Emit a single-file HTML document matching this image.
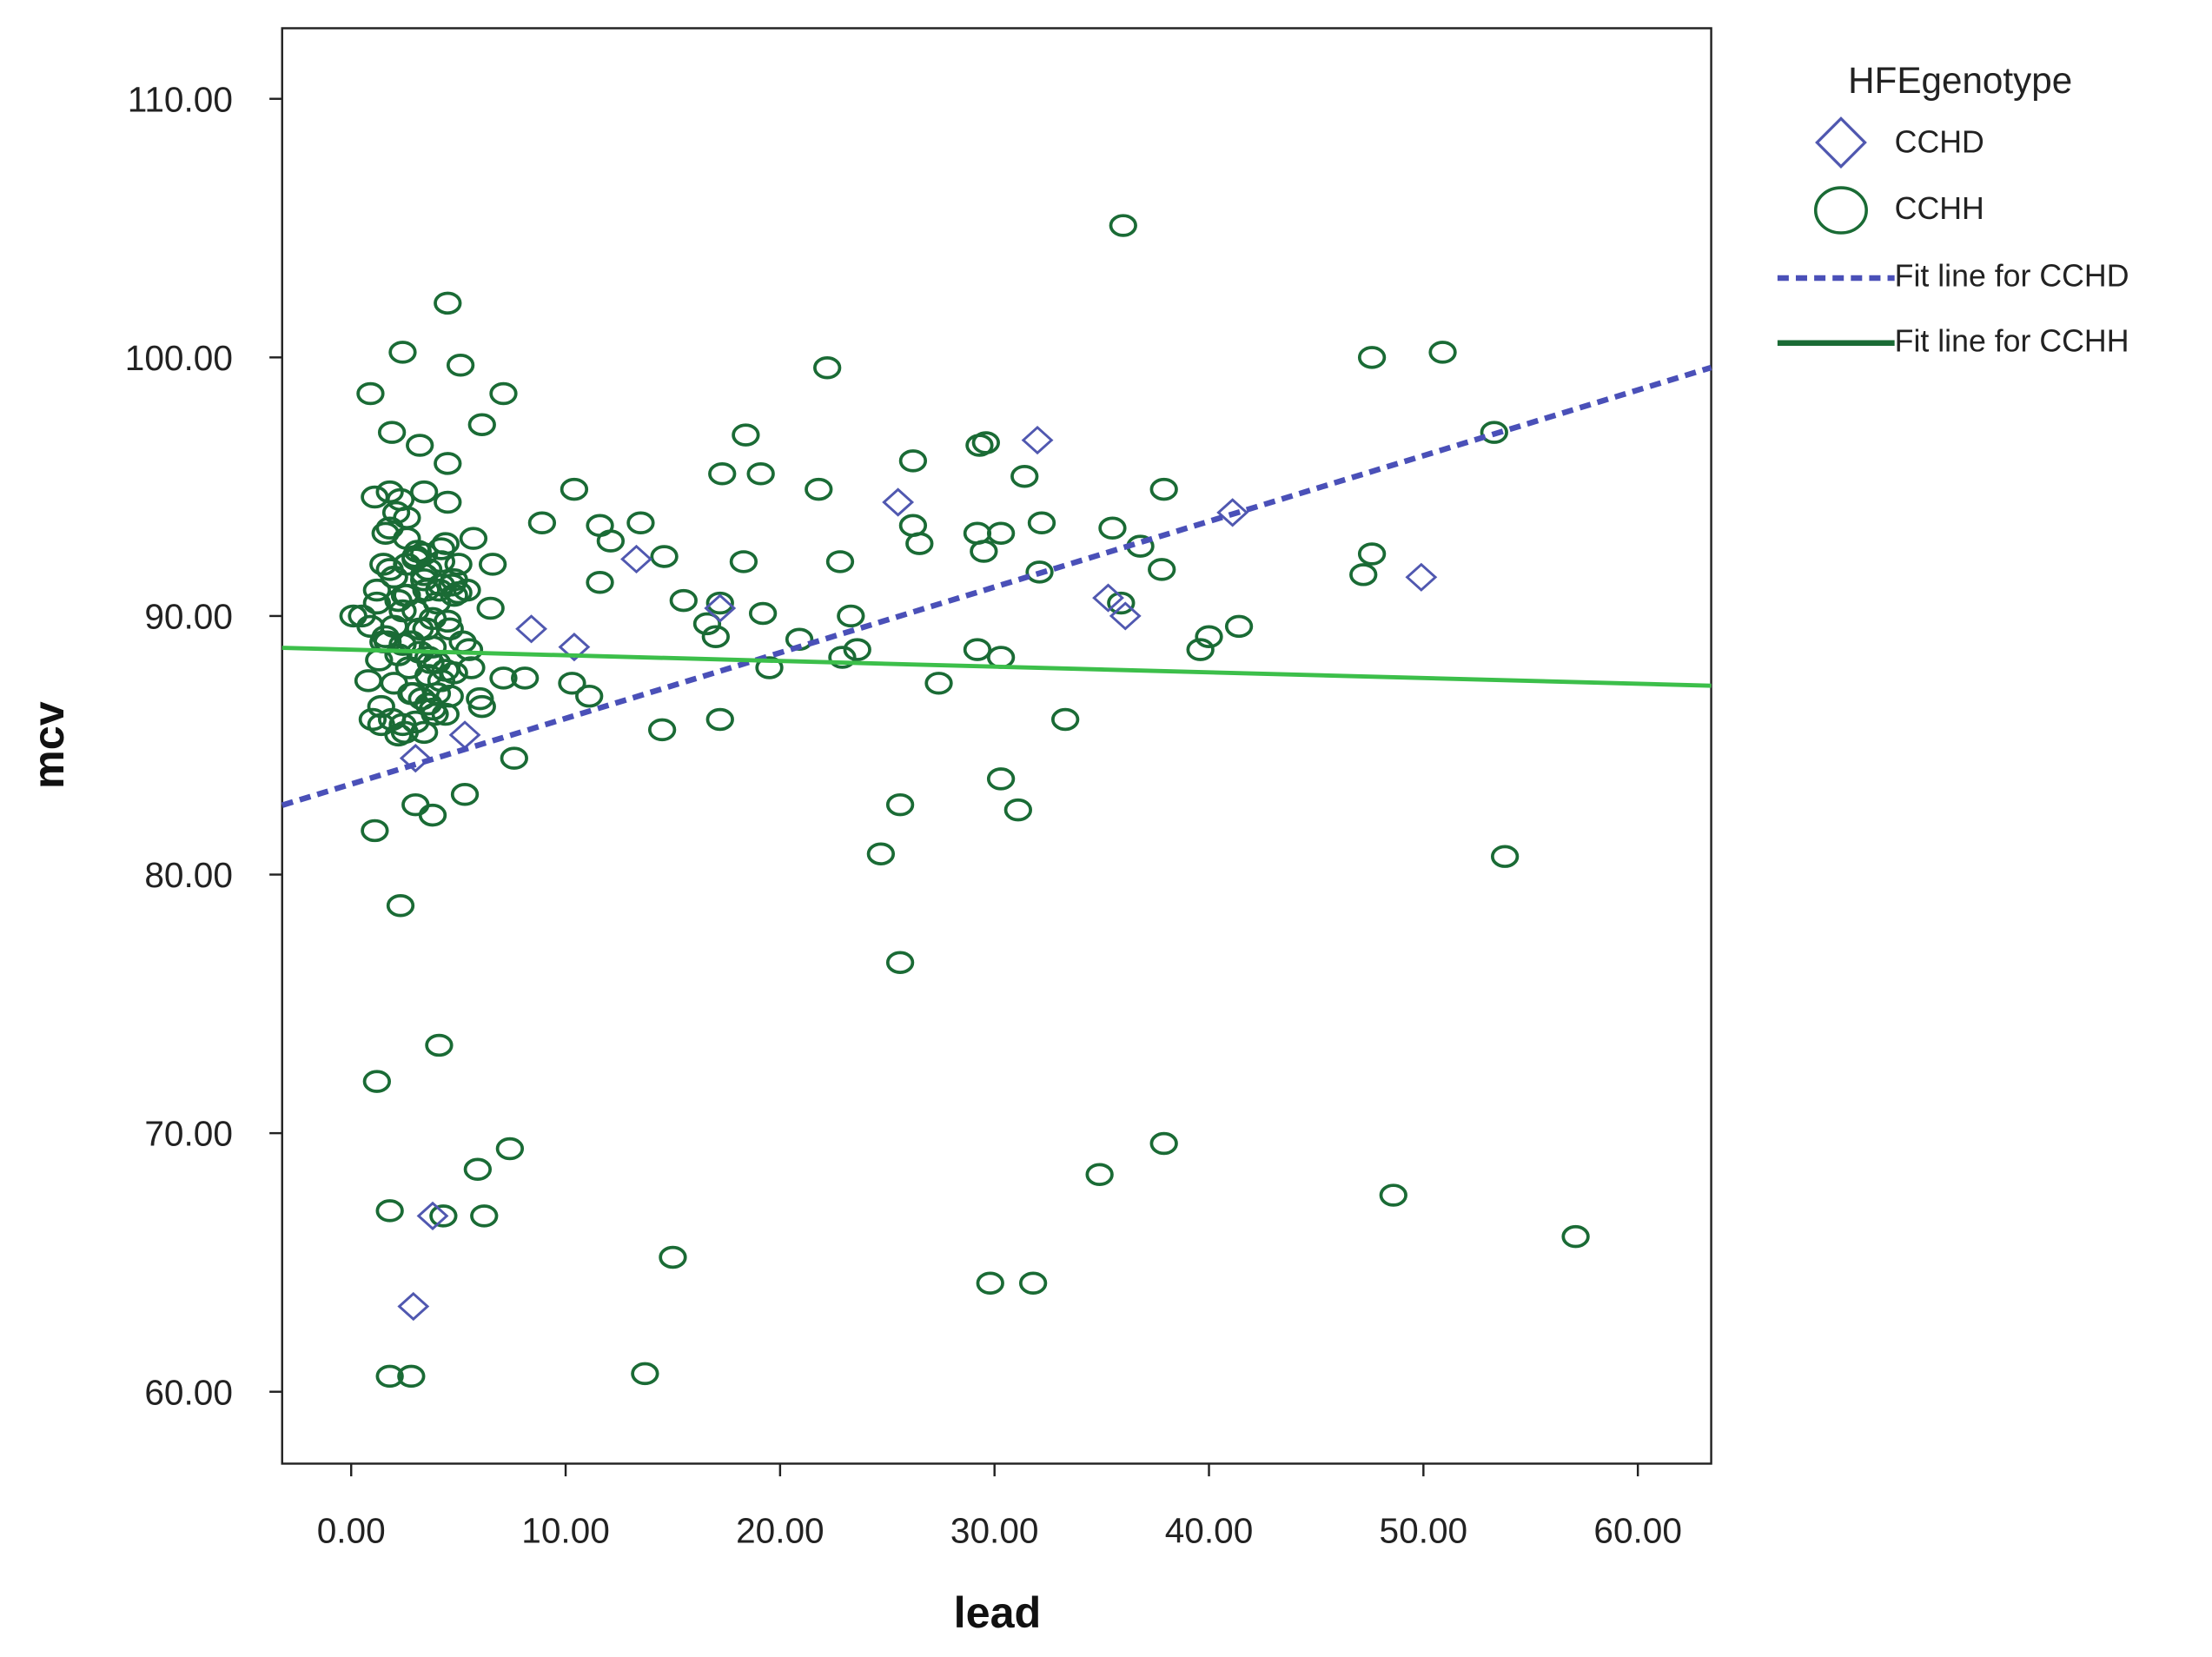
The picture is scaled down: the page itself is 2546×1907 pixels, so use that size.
<!DOCTYPE html>
<html><head><meta charset="utf-8"><style>html,body{margin:0;padding:0;background:#fff}svg{display:block}</style></head>
<body>
<svg id="chart" xmlns="http://www.w3.org/2000/svg" width="2546" height="1907" viewBox="0 0 1568 1174" preserveAspectRatio="none" font-family="Liberation Sans, sans-serif">
<rect x="0" y="0" width="1568" height="1174" fill="#fff"/>
<rect x="200" y="20" width="1013" height="1017" fill="#fff" stroke="#222" stroke-width="1.5"/>
<g id="marks"></g>
<text x="707" y="1153" font-size="31" font-weight="bold" text-anchor="middle" fill="#111">lead</text>
<text x="45" y="528" font-size="31" font-weight="bold" text-anchor="middle" fill="#111" transform="rotate(-90 45 528)">mcv</text>
<g>
<text x="1310" y="66" font-size="26" fill="#222">HFEgenotype</text>
<path d="M1305 84 L1322 101 L1305 118 L1288 101 Z" fill="none" stroke="#5058b0" stroke-width="2"/>
<text x="1343" y="108" font-size="22" fill="#222">CCHD</text>
<ellipse cx="1305" cy="149" rx="18" ry="16" fill="none" stroke="#1a6b35" stroke-width="2.2"/>
<text x="1343" y="155" font-size="22" fill="#222">CCHH</text>
<line x1="1260" y1="197" x2="1343" y2="197" stroke="#4a50b8" stroke-width="4" stroke-dasharray="8,5"/>
<text x="1343" y="203" font-size="22" fill="#222">Fit line for CCHD</text>
<line x1="1260" y1="243" x2="1343" y2="243" stroke="#1a6b35" stroke-width="4"/>
<text x="1343" y="249" font-size="22" fill="#222">Fit line for CCHH</text>
</g>
</svg>
<script>
const xTicks = [0,10,20,30,40,50,60];
const yTicks = [60,70,80,90,100,110];
const cchhLead = [0.9,2.4,4.5,5.1,7.1,6.1,1.9,3.2,4.5,1.1,1.8,3.4,4.5,5.7,6.6,6.5,0.1,0.9,5.5,6.1,7.1,8.1,7.6,5.3,3.8,3.0,1.1,2.3,4.1,1.2,1.8,4.3,6.2,5.9,7.4,1.8,2.8,8.9,10.4,11.6,12.1,13.5,11.6,10.3,11.1,14.5,15.5,14.6,16.6,17.0,17.2,17.2,17.3,18.4,18.3,19.1,19.2,19.5,20.9,21.8,22.2,22.8,22.9,23.3,23.6,24.7,25.6,25.6,26.2,26.2,26.5,27.4,29.3,29.6,29.2,29.5,29.2,30.3,30.3,30.3,31.1,31.4,32.2,32.1,33.3,29.8,31.8,34.9,37.9,36.0,35.5,36.8,35.9,37.9,37.8,39.6,40.0,41.4,47.2,47.6,47.6,50.9,53.3,53.8,48.6,57.1,15.0,13.7,
1.5,2.0,2.5,3.0,3.5,4.0,4.5,1.2,1.7,2.2,2.7,3.2,3.7,4.2,4.7,1.4,1.9,2.4,2.9,3.4,3.9,4.4,1.6,2.1,2.6,3.1,3.6,4.1,0.8,1.3,2.3,2.8,3.3,3.8,4.8,5.2,1.0,2.0,3.0,4.0,5.0,2.5,3.5,1.5,6.0,0.5,
1.8,2.6,3.4,4.2,5.0,2.2,3.0,3.8,4.6,1.6,2.4,3.2,4.0,4.8,2.0,2.8,3.6,4.4,1.4,2.2,3.0,3.8,4.6,2.6,3.4,4.2,1.8,2.6,3.4,4.2,5.4,2.0,2.8,3.6,4.4,5.6,1.2,2.4,3.6,4.8];
const cchhMcv = [98.6,100.2,102.1,99.7,98.6,97.4,97.1,96.6,95.9,94.6,94.8,94.8,94.4,93.0,92.0,90.3,90.0,89.6,88.7,86.5,87.6,87.6,84.5,83.1,82.3,82.7,81.7,78.8,73.4,72.0,67.0,66.8,66.8,68.6,69.4,60.6,60.6,93.6,94.9,93.5,92.9,93.6,91.3,87.4,86.9,85.6,90.6,92.3,89.7,89.2,90.5,86.0,95.5,97.0,92.1,95.5,90.1,88.0,89.1,94.9,99.6,92.1,88.4,90.0,88.7,80.8,82.7,76.6,96.0,93.5,92.8,87.4,96.6,96.7,93.2,92.5,88.7,93.2,88.4,83.7,82.5,95.4,93.6,91.7,86.0,64.2,64.2,68.4,69.6,105.1,93.4,92.7,90.5,94.9,91.8,88.7,89.2,89.6,91.6,92.4,100.0,100.2,97.1,80.7,67.6,66.0,65.2,60.7,
92.0,91.5,90.8,92.3,91.0,90.5,89.8,90.5,89.0,88.5,88.0,89.5,88.2,87.5,91.2,86.5,86.0,85.8,87.0,85.5,86.2,92.8,93.2,94.0,93.8,92.5,91.8,91.0,87.5,88.3,94.5,89.0,86.8,88.8,90.8,89.0,86.0,91.5,92.2,87.0,92.0,85.5,89.5,89.0,86.8,90.0,
91.8,92.0,91.6,91.2,90.9,90.6,90.2,89.9,89.5,89.2,88.9,88.6,88.2,87.8,87.4,87.0,86.6,86.2,85.8,85.4,85.9,86.4,86.9,90.8,91.4,92.6,93.4,93.0,92.4,92.1,91.0,89.6,89.0,88.4,87.9,88.0,91.0,90.2,87.7,91.4];
const cchdLead = [3.0,3.8,2.9,8.4,10.4,13.3,17.2,25.5,32.0,35.3,36.1,41.1,49.9,5.3];
const cchdMcv = [84.5,66.8,63.3,89.5,88.8,92.2,90.3,94.4,96.8,90.7,90.0,94.0,91.5,85.4];
const fitIntercept = [83.5, 88.7];
const fitSlope = [0.254, -0.022];

const X0=-3.22,X1=63.42,Y0=57.22,Y1=112.73;
const L=200,R=1213,T=20,B=1037;
function sx(v){return L+(v-X0)/(X1-X0)*(R-L);}
function sy(v){return B-(v-Y0)/(Y1-Y0)*(B-T);}
const NS='http://www.w3.org/2000/svg';
const g=document.getElementById('marks');
function mk(tag,attrs){const e=document.createElementNS(NS,tag);for(const k in attrs)e.setAttribute(k,attrs[k]);g.appendChild(e);return e;}
xTicks.forEach(t=>{
  const l=mk('line',{x1:sx(t),x2:sx(t),y1:B,y2:B+9,stroke:'#222','stroke-width':1.5});
  
  
  const tx=mk('text',{x:sx(t),y:B+56,'font-size':25,'text-anchor':'middle',fill:'#222'});
  tx.textContent=t.toFixed(2);
  
  
});
yTicks.forEach(t=>{
  const l=mk('line',{x1:L-9,x2:L,y1:sy(t),y2:sy(t),stroke:'#222','stroke-width':1.5});
  
  
  const tx=mk('text',{x:L-35,y:sy(t)+9,'font-size':25,'text-anchor':'end',fill:'#222'});
  tx.textContent=t.toFixed(2);
  
  
});
cchhLead.forEach((v,i)=>{
  const c=mk('ellipse',{cx:sx(v),cy:sy(cchhMcv[i]),rx:8.8,ry:7,fill:'none',stroke:'#1a6b35','stroke-width':2.3});
  
  
});
cchdLead.forEach((v,i)=>{
  const x=sx(v),y=sy(cchdMcv[i]);
  const p=mk('path',{d:`M${x} ${y-9} L${x+10} ${y} L${x} ${y+9} L${x-10} ${y} Z`,fill:'none',stroke:'#5058b0','stroke-width':1.8});
  
  
});
const f1=mk('line',{x1:L,y1:sy(fitIntercept[0]+fitSlope[0]*X0),x2:R,y2:sy(fitIntercept[0]+fitSlope[0]*X1),stroke:'#4a50b8','stroke-width':4,'stroke-dasharray':'8,5'});


const f2=mk('line',{x1:L,y1:sy(fitIntercept[1]+fitSlope[1]*X0),x2:R,y2:sy(fitIntercept[1]+fitSlope[1]*X1),stroke:'#3cbf4a','stroke-width':3});


</script>
</body></html>
